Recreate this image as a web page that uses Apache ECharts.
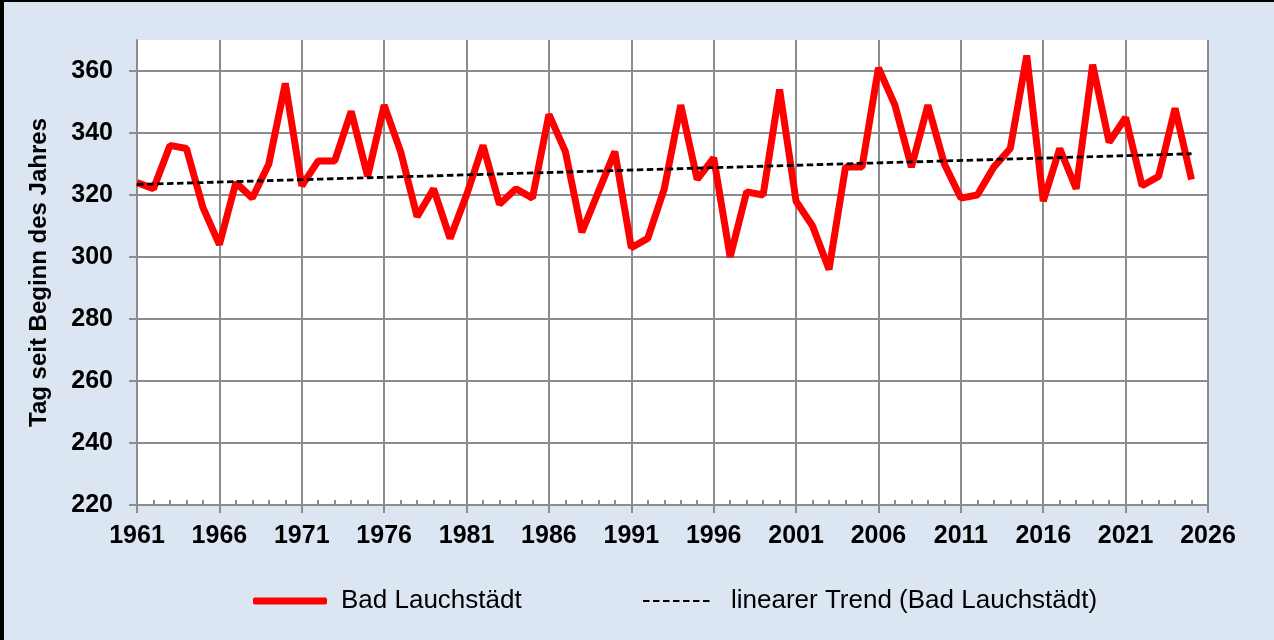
<!DOCTYPE html>
<html>
<head>
<meta charset="utf-8">
<script src="https://cdn.jsdelivr.net/npm/echarts@6/dist/echarts.min.js"></script>
<style>
  html, body { margin: 0; padding: 0; }
  #main {
    width: 1274px; height: 640px; box-sizing: border-box;
    background: #dce6f2;
    border-left: 4px solid #000; border-top: 2px solid #000;
  }
</style>
</head>
<body>
<div id="main"></div>
<script>
// Bad Lauchstädt, Tag seit Jahresbeginn 1961-2025
var years = []
for (var y = 1961; y <= 2026; y++) years.push(String(y))

var badLauchstaedt = [
  324, 322, 336, 335, 316, 304, 324, 319, 330, 356,
  323, 331, 331, 347, 326, 349, 334, 313, 322, 306,
  320, 336, 317, 322, 319, 346, 334, 308, 321, 334,
  303, 306, 322, 349, 325, 332, 300, 321, 320, 354,
  318, 310, 296, 329, 329, 361, 349, 329, 349, 330,
  319, 320, 329, 335, 365, 318, 335, 322, 362, 337,
  345, 323, 326, 348, 325
]

// trend line end points (1961 / 2025)
var trendPoints = [[0, 323.4], [64, 333.3]]

var yTicks = { min: 220, max: 370, step: 20 }

var font = 'Liberation Sans, Arial, sans-serif'
var gridGray = '#8c8c8c'

var chart = echarts.init(document.getElementById('main'))
chart.setOption({
  animation: false,
  grid: { left: 133, right: 66, top: 38, bottom: 135, backgroundColor: '#fff', show: true, borderWidth: 0 },
  legend: [
    {
      data: [{ name: 'Bad Lauchstädt', icon: 'roundRect' }],
      left: 244, top: 581,
      itemWidth: 74, itemHeight: 7,
      itemStyle: { color: '#ff0000' },
      textStyle: { fontFamily: font, fontSize: 26, color: '#000', padding: [0, 0, 0, 9] }
    },
    {
      data: ['linearer Trend (Bad Lauchstädt)'],
      left: 633, top: 581,
      itemWidth: 70, itemHeight: 14,
      itemStyle: { opacity: 0 },
      textStyle: { fontFamily: font, fontSize: 26, color: '#000', padding: [0, 0, 0, 13] }
    }
  ],
  xAxis: [
    {
      type: 'category',
      data: years,
      boundaryGap: false,
      axisLine: { lineStyle: { color: gridGray, width: 2 } },
      axisTick: { show: true, interval: 4, length: 8, lineStyle: { color: gridGray, width: 2 } },
      axisLabel: { interval: 4, margin: 19, fontFamily: font, fontSize: 25, fontWeight: 'bold', color: '#000' },
      splitLine: { show: true, interval: 4, lineStyle: { color: gridGray, width: 2 } }
    },
    {
      type: 'category',
      data: years,
      boundaryGap: false,
      position: 'bottom',
      axisLine: { show: false },
      axisTick: { show: true, inside: true, interval: 0, length: 5, lineStyle: { color: gridGray, width: 2 } },
      axisLabel: { show: false },
      splitLine: { show: false }
    }
  ],
  yAxis: {
    type: 'value',
    min: yTicks.min, max: yTicks.max, interval: yTicks.step,
    name: 'Tag seit Beginn des Jahres',
    nameLocation: 'middle',
    nameGap: 86,
    nameTextStyle: { fontFamily: font, fontSize: 24, fontWeight: 'bold', color: '#000' },
    axisLine: { show: true, lineStyle: { color: gridGray, width: 2 } },
    axisTick: { show: true, length: 8, lineStyle: { color: gridGray, width: 2 } },
    axisLabel: {
      margin: 24, fontFamily: font, fontSize: 25, fontWeight: 'bold', color: '#000',
      showMaxLabel: false,
      formatter: function (v) { return v > 360 ? '' : String(v) }
    },
    splitLine: { show: true, showMaxLine: false, lineStyle: { color: gridGray, width: 2 } }
  },
  series: [
    {
      name: 'Bad Lauchstädt',
      type: 'line',
      data: badLauchstaedt,
      showSymbol: false,
      symbol: 'none',
      lineStyle: { color: '#ff0000', width: 7 },
      itemStyle: { color: '#ff0000' },
      z: 3
    },
    {
      name: 'linearer Trend (Bad Lauchstädt)',
      type: 'line',
      data: trendPoints,
      showSymbol: false,
      symbol: 'none',
      lineStyle: { color: '#000', width: 2.8, type: [6.5, 3.5] },
      itemStyle: { color: '#000' },
      z: 4
    }
  ]
})
</script>
</body>
</html>
